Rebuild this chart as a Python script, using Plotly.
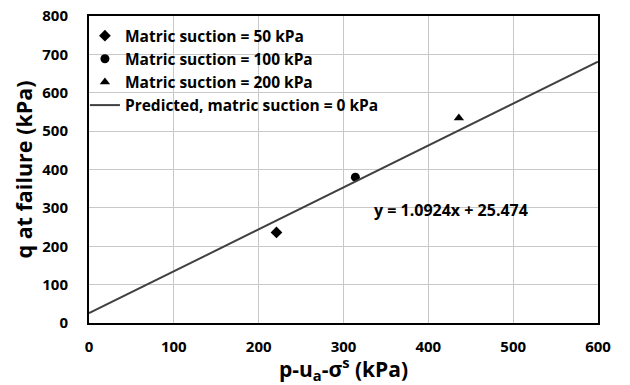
import plotly.graph_objects as go

x_50 = [221]
q_50 = [236]
x_100 = [314]
q_100 = [380]
x_200 = [436]
q_200 = [534]
x_pred = [0, 600]
slope = 1.0924
intercept = 25.474
q_pred = [slope * v + intercept for v in x_pred]

font_fam = "Open Sans"
fig = go.Figure()
fig.add_trace(go.Scatter(x=x_50, y=q_50, mode="markers", name="Matric suction = 50 kPa",
                         marker=dict(symbol="diamond", size=9, color="black")))
fig.add_trace(go.Scatter(x=x_100, y=q_100, mode="markers", name="Matric suction = 100 kPa",
                         marker=dict(symbol="circle", size=9, color="black")))
fig.add_trace(go.Scatter(x=x_200, y=q_200, mode="markers", name="Matric suction = 200 kPa",
                         marker=dict(symbol="triangle-up", size=9, color="black")))
fig.add_trace(go.Scatter(x=x_pred, y=q_pred, mode="lines", name="Predicted, matric suction = 0 kPa",
                         line=dict(color="#404040", width=2)))

fig.add_annotation(x=333, y=295, text="<b>y = 1.0924x + 25.474</b>", showarrow=False,
                   xanchor="left", yanchor="middle", font=dict(family=font_fam, size=16, color="black"))

fig.update_layout(
    width=630, height=385,
    margin=dict(l=89, r=32, t=16, b=62, autoexpand=False),
    paper_bgcolor="white", plot_bgcolor="white",
    font=dict(family=font_fam, color="black"),
    showlegend=True,
    legend=dict(x=-0.008, y=0.99, xanchor="left", yanchor="top", bgcolor="rgba(0,0,0,0)",
                font=dict(family=font_fam, size=15.5, color="black", weight="bold"),
                tracegroupgap=0, itemwidth=30),
    xaxis=dict(range=[0, 600], dtick=100, showgrid=True, gridcolor="#c8c8c8", gridwidth=1,
               showline=True, linecolor="black", linewidth=2, mirror=True, zeroline=False,
               automargin=False,
               ticks="", tickfont=dict(family=font_fam, size=15, weight="bold"),
               ticklabelstandoff=9,
               title=dict(text="<b>p-u<sub>a</sub>-σ<sup>s</sup> (kPa)</b>", font=dict(family=font_fam, size=21), standoff=7)),
    yaxis=dict(range=[0, 800], dtick=100, showgrid=True, gridcolor="#c8c8c8", gridwidth=1,
               showline=True, linecolor="black", linewidth=2, mirror=True, zeroline=False,
               automargin=False,
               ticks="", tickfont=dict(family=font_fam, size=15, weight="bold"),
               ticklabelstandoff=16,
               title=dict(text="<b>q at failure (kPa)</b>", font=dict(family=font_fam, size=21.5), standoff=4)),
)

fig.write_html("out.html")
